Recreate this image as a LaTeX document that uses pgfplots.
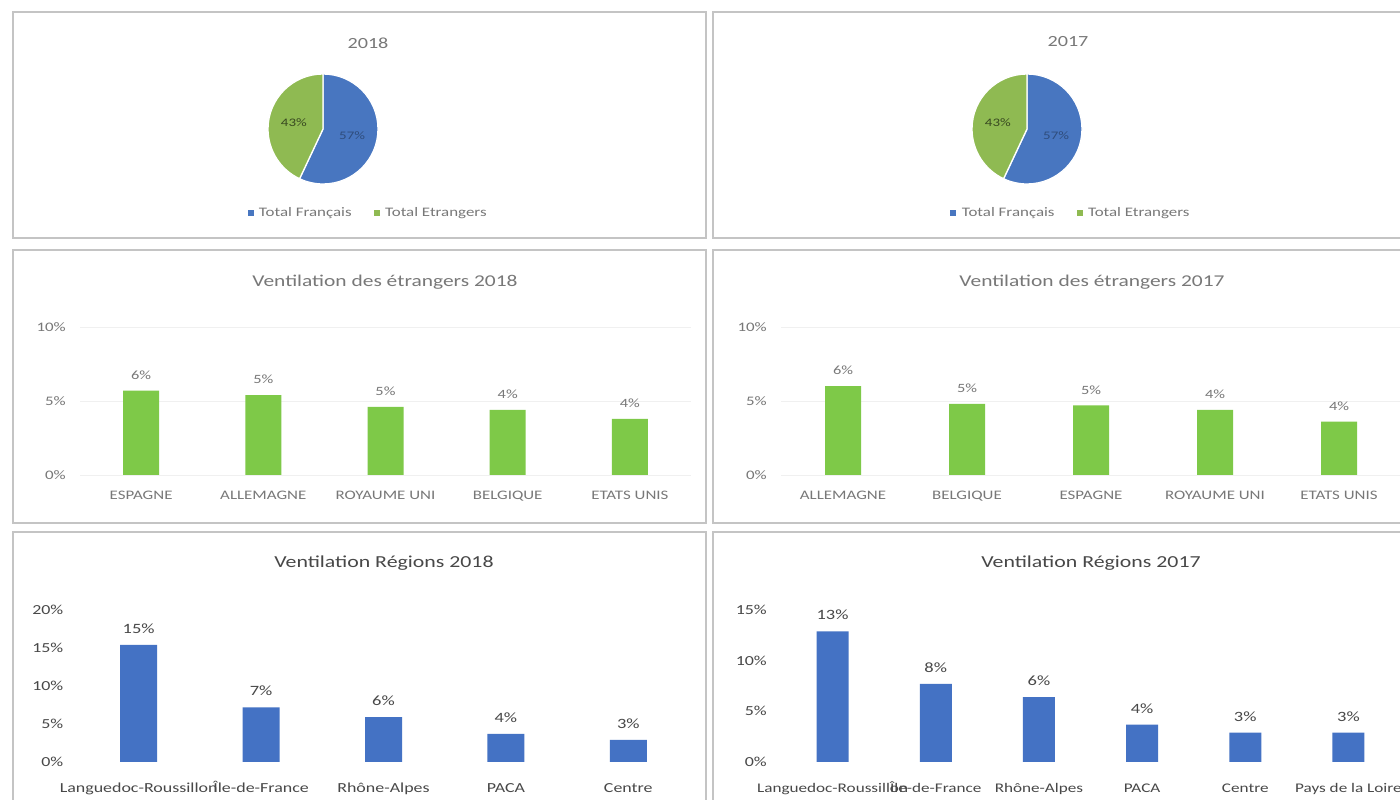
\documentclass[border=0pt]{standalone}
\usepackage{fontspec}
\setmainfont{Carlito}[FakeStretch=1.3]
\usepackage{pgfplots}
\pgfplotsset{compat=1.18}

\definecolor{txt}{RGB}{120,120,120}
\definecolor{txtd}{RGB}{72,72,72}
\definecolor{barg}{RGB}{126,201,72}
\definecolor{barb}{RGB}{68,114,196}
\definecolor{pieb}{RGB}{72,118,192}
\definecolor{pieg}{RGB}{143,186,82}
\definecolor{panel}{RGB}{196,196,196}

\newcommand\fs[1]{\fontsize{#1}{#1}\selectfont}

\pgfplotsset{
  ventil/.style={
    scale only axis, anchor=south west, ybar,
    xmin=-0.5, xmax=4.5, ymin=0, xtick=data,
    enlargelimits=false,
    axis line style={draw=none}, tick style={draw=none},
    ymajorgrids, grid style={gray!12},
    /pgf/number format/assume math mode=true,
    yticklabel={\pgfmathprintnumber{\tick}\%},
    yticklabel style={inner sep=0pt, anchor=east, xshift=-14pt},
    xticklabel style={inner sep=0pt, anchor=north, text height=9.5pt, text depth=3pt},
    nodes near coords={\pgfmathprintnumber[fixed,precision=0]{\pgfplotspointmeta}\%},
    nodes near coords style={inner sep=0pt, anchor=south, yshift=11pt},
  },
  middle/.style={ventil, height=148pt, ymax=10, ytick={0,5,10}, bar width=36pt,
    ticklabel style={font=\fs{13}, text=txt},
    xticklabel style={yshift=-11pt},
    nodes near coords style={font=\fs{12.6}, text=txt}},
  bottom/.style={ventil, height=152pt, ymajorgrids=false,
    ticklabel style={font=\fs{13.8}, text=txtd},
    xticklabel style={yshift=-17pt},
    nodes near coords style={font=\fs{14.2}, text=txtd}},
  pie/.style={scale only axis, width=110pt, height=110pt, anchor=center,
    xmin=-1, xmax=1, ymin=-1, ymax=1, hide axis,
    legend columns=2,
    legend style={draw=none, fill=none, anchor=center, font=\fs{13}, text=txt,
      /tikz/every even column/.append style={column sep=20pt}},
    legend image code/.code={\fill[##1] (0pt,-2.5pt) rectangle (5pt,2.5pt); \path (9pt,0pt);}},
}

% share of Total Francais / Total Etrangers (%)
\def\frA{57}\def\etA{43}
\def\frB{57}\def\etB{43}

\begin{document}
\begin{tikzpicture}[x=1pt,y=1pt]
\useasboundingbox (0,0) rectangle (1400,800);
\fill[white] (0,0) rectangle (1400,800);

% panels
\draw[panel, line width=1.2pt] (13,562) rectangle (706,788);
\draw[panel, line width=1.2pt] (713,562) rectangle (1412,788);
\draw[panel, line width=1.2pt] (13,277) rectangle (706,550);
\draw[panel, line width=1.2pt] (713,277) rectangle (1412,550);
\draw[panel, line width=1.2pt] (13,-5) rectangle (706,268);
\draw[panel, line width=1.2pt] (713,-5) rectangle (1412,268);

% ---------- pies ----------
\node[font=\fs{15.5}, text=txt] at (368,757) {2018};
\node[font=\fs{15.5}, text=txt] at (1068,758) {2017};

\pgfmathsetmacro\angA{90-3.6*\frA}
\begin{axis}[pie, at={(323pt,671pt)}, legend style={at={(0.91,-0.265)}}]
  \addlegendimage{pieb}\addlegendentry{Total Français}
  \addlegendimage{pieg}\addlegendentry{Total Etrangers}
  \fill[pieb, draw=white, line width=1.3pt] (axis cs:0,0) -- (axis cs:0,1)
     arc[start angle=90, end angle=\angA, radius=55pt] -- cycle;
  \fill[pieg, draw=white, line width=1.3pt] (axis cs:0,0) -- (axis cs:0,1)
     arc[start angle=90, end angle=\angA+360, radius=55pt] -- cycle;
  \node[font=\fs{11.5}, text=pieg!40!black] at (axis cs:-0.53,0.12) {\etA\%};
  \node[font=\fs{11.5}, text=pieb!65!black] at (axis cs:0.53,-0.12) {\frA\%};
\end{axis}

\pgfmathsetmacro\angB{90-3.6*\frB}
\begin{axis}[pie, at={(1027pt,671pt)}, legend style={at={(0.9,-0.265)}}]
  \addlegendimage{pieb}\addlegendentry{Total Français}
  \addlegendimage{pieg}\addlegendentry{Total Etrangers}
  \fill[pieb, draw=white, line width=1.3pt] (axis cs:0,0) -- (axis cs:0,1)
     arc[start angle=90, end angle=\angB, radius=55pt] -- cycle;
  \fill[pieg, draw=white, line width=1.3pt] (axis cs:0,0) -- (axis cs:0,1)
     arc[start angle=90, end angle=\angB+360, radius=55pt] -- cycle;
  \node[font=\fs{11.5}, text=pieg!40!black] at (axis cs:-0.53,0.12) {\etB\%};
  \node[font=\fs{11.5}, text=pieb!65!black] at (axis cs:0.53,-0.12) {\frB\%};
\end{axis}

% ---------- etrangers ----------
\node[font=\fs{16.5}, text=txt] at (385,518) {Ventilation des étrangers 2018};
\begin{axis}[middle, at={(80pt,325pt)}, width=611pt,
  xticklabels={ESPAGNE, ALLEMAGNE, ROYAUME UNI, BELGIQUE, ETATS UNIS}]
  \addplot[fill=barg, draw=none] coordinates {(0,5.7) (1,5.4) (2,4.6) (3,4.4) (4,3.8)};
\end{axis}

\node[font=\fs{16.5}, text=txt] at (1092,518) {Ventilation des étrangers 2017};
\begin{axis}[middle, at={(781pt,325pt)}, width=620pt,
  xticklabels={ALLEMAGNE, BELGIQUE, ESPAGNE, ROYAUME UNI, ETATS UNIS}]
  \addplot[fill=barg, draw=none] coordinates {(0,6.0) (1,4.8) (2,4.7) (3,4.4) (4,3.6)};
\end{axis}

% ---------- regions ----------
\node[font=\fs{16.8}, text=txtd] at (384,237) {Ventilation Régions 2018};
\begin{axis}[bottom, at={(77.5pt,38pt)}, width=612pt, ymax=20, ytick={0,5,10,15,20},
  bar width=37pt,
  xticklabels={Languedoc-Roussillon, Île-de-France, Rhône-Alpes, PACA, Centre}]
  \addplot[fill=barb, draw=none] coordinates {(0,15.4) (1,7.2) (2,5.9) (3,3.7) (4,2.9)};
\end{axis}

\node[font=\fs{16.8}, text=txtd] at (1091,237) {Ventilation Régions 2017};
\begin{axis}[bottom, at={(781pt,38pt)}, width=619pt, xmax=5.5, ymax=15, ytick={0,5,10,15},
  bar width=32pt, xticklabel style={font=\fs{13.2}},
  xticklabels={Languedoc-Roussillon, Île-de-France, Rhône-Alpes, PACA, Centre, Pays de la Loire}]
  \addplot[fill=barb, draw=none] coordinates {(0,12.9) (1,7.7) (2,6.4) (3,3.7) (4,2.9) (5,2.9)};
\end{axis}
\end{tikzpicture}
\end{document}
